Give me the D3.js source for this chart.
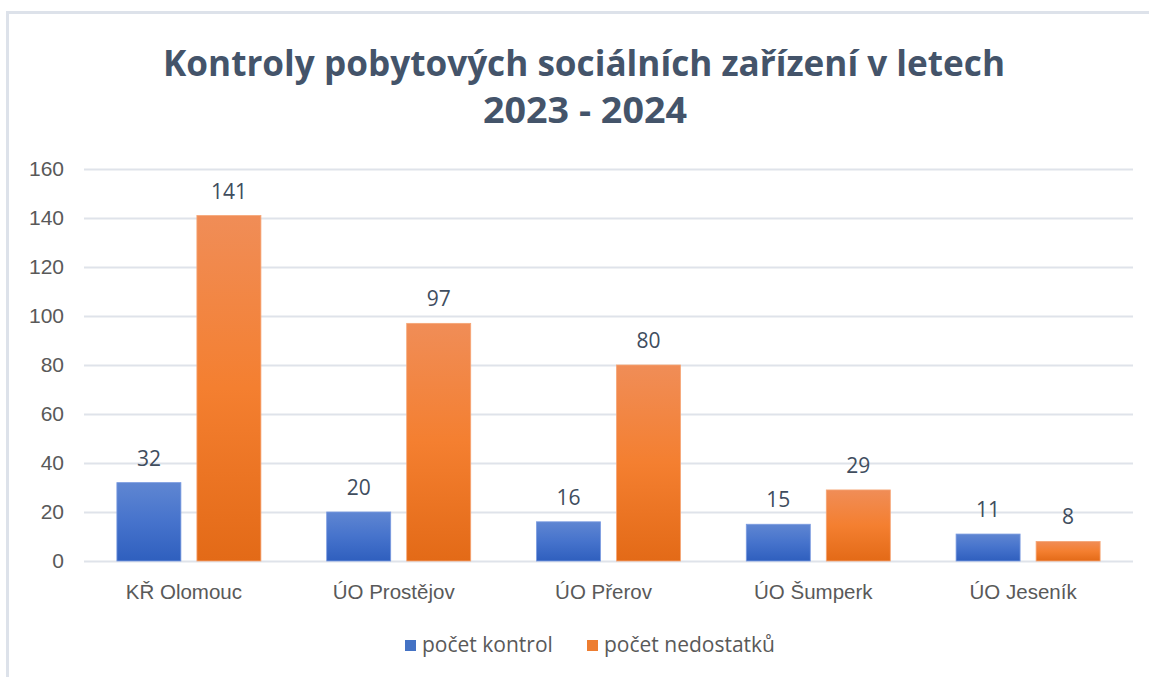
<!DOCTYPE html>
<html>
<head>
<meta charset="utf-8">
<script src="https://cdn.jsdelivr.net/npm/d3@7"></script>
<style>
  body { margin: 0; background: #fff; }
  svg { display: block; font-family: "Open Sans", "Noto Sans", sans-serif; }
</style>
</head>
<body>
<svg id="chart"></svg>
<script>
var width = 1149,
    height = 677;

var categories = ["KŘ Olomouc", "ÚO Prostějov", "ÚO Přerov", "ÚO Šumperk", "ÚO Jeseník"];
var seriesNames = ["počet kontrol", "počet nedostatků"];
var kontroly = [32, 20, 16, 15, 11];
var nedostatky = [141, 97, 80, 29, 8];
var yTicks = [0, 20, 40, 60, 80, 100, 120, 140, 160];

var margin = {top: 169, right: 16, bottom: 116, left: 84};

var svg = d3.select("#chart")
    .attr("width", width)
    .attr("height", height);

// gradients like the office chart style
var defs = svg.append("defs");
function grad(id, top, mid, bottom) {
    var g = defs.append("linearGradient")
        .attr("id", id)
        .attr("x1", 0).attr("y1", 0).attr("x2", 0).attr("y2", 1);
    g.append("stop").attr("offset", "0%").attr("stop-color", top);
    g.append("stop").attr("offset", "50%").attr("stop-color", mid);
    g.append("stop").attr("offset", "100%").attr("stop-color", bottom);
}
grad("g0", "#5f86d2", "#4673cc", "#2f5fbe");
grad("g1", "#f08d57", "#f47f30", "#e36a17");

var colors = ["url(#g0)", "url(#g1)"];
var legendColors = ["#4472c4", "#ed7d31"];

// outer frame (cut by the picture on the right and bottom)
svg.append("path")
    .attr("d", "M7.5," + height + "V12.5H" + width)
    .attr("fill", "none")
    .attr("stroke", "#dde2ea")
    .attr("stroke-width", 3);

var x = d3.scaleBand()
    .domain(categories)
    .range([margin.left, width - margin.right]);

var xInner = d3.scaleBand()
    .domain(seriesNames)
    .range([0, x.bandwidth()])
    .paddingInner(0.2)
    .paddingOuter(0.411);

var y = d3.scaleLinear()
    .domain([0, 160])
    .range([height - margin.bottom, margin.top]);

// title
var title = svg.append("g")
    .attr("fill", "#44546a")
    .attr("font-weight", "bold")
    .attr("font-size", 36)
    .attr("text-anchor", "middle");
title.append("text")
    .attr("x", 584).attr("y", 76)
    .attr("textLength", 842)
    .attr("lengthAdjust", "spacingAndGlyphs")
    .text("Kontroly pobytových sociálních zařízení v letech");
title.append("text")
    .attr("x", 585).attr("y", 123)
    .attr("textLength", 204)
    .attr("lengthAdjust", "spacingAndGlyphs")
    .text("2023 - 2024");

// gridlines + y axis
var yAxis = svg.append("g")
    .attr("transform", "translate(" + margin.left + ",0)")
    .call(d3.axisLeft(y).tickValues(yTicks)
        .tickSize(-(width - margin.left - margin.right))
        .tickPadding(20));
yAxis.select(".domain").remove();
yAxis.selectAll(".tick line")
    .attr("stroke", "#dfe3ea")
    .attr("stroke-width", 2);
yAxis.selectAll(".tick text")
    .attr("fill", "#595959")
    .attr("font-size", 21);

// x axis labels
var xAxis = svg.append("g")
    .attr("transform", "translate(0," + (height - margin.bottom) + ")")
    .call(d3.axisBottom(x).tickSize(0).tickPadding(23));
xAxis.select(".domain").remove();
xAxis.selectAll(".tick text")
    .attr("fill", "#595959")
    .attr("font-size", 20.5)
    .attr("dx", -5);

// bars
var rows = categories.map(function(c, i) {
    return {cat: c, vals: [kontroly[i], nedostatky[i]]};
});

var groups = svg.append("g").selectAll("g")
    .data(rows)
    .enter().append("g")
    .attr("transform", function(d) { return "translate(" + x(d.cat) + ",0)"; });

groups.selectAll("rect")
    .data(function(d) { return d.vals.map(function(v, j) { return {s: seriesNames[j], v: v, j: j}; }); })
    .enter().append("rect")
    .attr("x", function(d) { return xInner(d.s); })
    .attr("y", function(d) { return y(d.v); })
    .attr("width", xInner.bandwidth())
    .attr("height", function(d) { return y(0) - y(d.v); })
    .attr("fill", function(d) { return colors[d.j]; })
    .attr("stroke", function(d) { return d.j ? "#f6a576" : "#7b9be0"; })
    .attr("stroke-width", 0.8);

groups.selectAll(".lbl")
    .data(function(d) { return d.vals.map(function(v, j) { return {s: seriesNames[j], v: v}; }); })
    .enter().append("text")
    .attr("class", "lbl")
    .attr("x", function(d) { return xInner(d.s) + xInner.bandwidth() / 2; })
    .attr("y", function(d) { return y(d.v) - 17; })
    .attr("text-anchor", "middle")
    .attr("fill", "#404d5e")
    .attr("font-size", 21)
    .text(function(d) { return d.v; });

// legend
var legendX = [405, 587];
var legend = svg.append("g").selectAll("g")
    .data(seriesNames)
    .enter().append("g")
    .attr("transform", function(d, i) { return "translate(" + legendX[i] + ",640)"; });
legend.append("rect")
    .attr("width", 11).attr("height", 11)
    .attr("fill", function(d, i) { return legendColors[i]; });
legend.append("text")
    .attr("x", 17).attr("y", 12)
    .attr("fill", "#595959")
    .attr("font-size", 21)
    .text(function(d) { return d; });
</script>
</body>
</html>
